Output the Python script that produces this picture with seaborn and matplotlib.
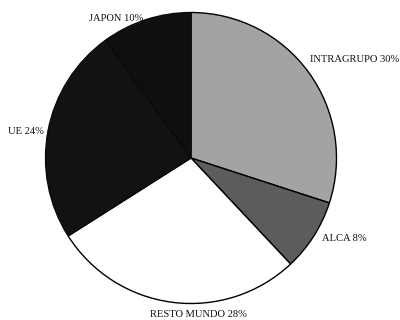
import matplotlib.pyplot as plt
import seaborn as sns

sns.set_theme(style="white")
plt.rcParams['font.family'] = ['Liberation Serif', 'DejaVu Serif']

labels = ["INTRAGRUPO 30%", "ALCA 8%", "RESTO MUNDO 28%", "UE 24%", "JAPON 10%"]
values = [30, 8, 28, 24, 10]
colors = ["#a3a3a3", "#5c5c5c", "#ffffff", "#121212", "#0f0f0f"]

fig = plt.figure(figsize=(4, 3.2), dpi=100)
ax = fig.add_axes([45.5 / 400, 16.5 / 320, 291 / 400, 291 / 320])

wedges, texts = ax.pie(values, labels=labels, colors=colors, startangle=90,
                       counterclock=False, labeldistance=1.07,
                       wedgeprops=dict(edgecolor="black", linewidth=1.0),
                       textprops=dict(fontsize=7.6, color="#111111"))

# la linea entre UE y JAPON casi no se ve en el original
wedges[3].set_edgecolor("#0a0a0a")
wedges[4].set_edgecolor("#0a0a0a")

# ajustar etiquetas a mano
texts[0].set_position((0.82, 0.675))
texts[0].set_ha("left")
texts[0].set_va("center")
texts[1].set_position((0.90, -0.555))
texts[1].set_va("center")
texts[2].set_position((0.05, -1.09))
texts[2].set_ha("center")
texts[2].set_va("baseline")
texts[3].set_position((-1.01, 0.18))
texts[3].set_va("center")
texts[4].set_position((-0.33, 0.96))
texts[4].set_va("center")

ax.set_xlim(-1, 1)
ax.set_ylim(-1, 1)
ax.set_aspect("equal")
ax.axis("off")

plt.savefig("out.png", dpi=100)
plt.close()
